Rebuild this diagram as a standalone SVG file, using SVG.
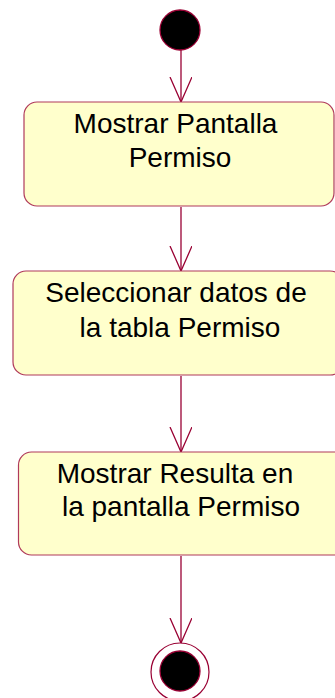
<svg xmlns="http://www.w3.org/2000/svg" width="335" height="698" viewBox="0 0 335 698">
<defs>
<style>
.box{fill:#FFFFCC;stroke:#B03A5B;stroke-width:1.2}
.lbl{font-family:"Liberation Sans",Arial,sans-serif;font-size:28px;fill:#000;text-anchor:middle}
.edge{stroke:#990033;stroke-width:1.3;fill:none}
</style>
<marker id="open" markerWidth="26" markerHeight="24" refX="25" refY="11" orient="auto" markerUnits="userSpaceOnUse">
<path d="M0,0 L25,11 L0,22" fill="none" stroke="#990033" stroke-width="1.3"/>
</marker>
</defs>
<rect width="335" height="698" fill="#FFFFFF"/>
<g id="connectors">
<line class="edge" x1="181" y1="50" x2="181" y2="102" marker-end="url(#open)"/>
<line class="edge" x1="181" y1="207" x2="181" y2="271" marker-end="url(#open)"/>
<line class="edge" x1="181" y1="376" x2="181" y2="452" marker-end="url(#open)"/>
<line class="edge" x1="181" y1="556" x2="181" y2="643" marker-end="url(#open)"/>
</g>
<g id="start">
<circle cx="180" cy="30" r="20" fill="#000" stroke="#990033" stroke-width="1.3"/>
</g>
<g id="node1">
<rect class="box" x="24" y="102" width="310" height="104" rx="13"/>
<text class="lbl" x="175.5" y="133">Mostrar Pantalla</text>
<text class="lbl" x="180" y="167">Permiso</text>
</g>
<g id="node2">
<rect class="box" x="13" y="271" width="330" height="104" rx="13"/>
<text class="lbl" x="176" y="302">Seleccionar datos de</text>
<text class="lbl" x="180" y="337">la tabla Permiso</text>
</g>
<g id="node3">
<rect class="box" x="18.5" y="452" width="330" height="103" rx="13"/>
<text class="lbl" x="175" y="483">Mostrar Resulta en</text>
<text class="lbl" x="181" y="516">la pantalla Permiso</text>
</g>
<g id="end">
<circle cx="180" cy="672" r="29" fill="#FFFFFF" stroke="#990033" stroke-width="1.2"/>
<circle cx="180" cy="671" r="20" fill="#000" stroke="#990033" stroke-width="1.3"/>
</g>
</svg>
